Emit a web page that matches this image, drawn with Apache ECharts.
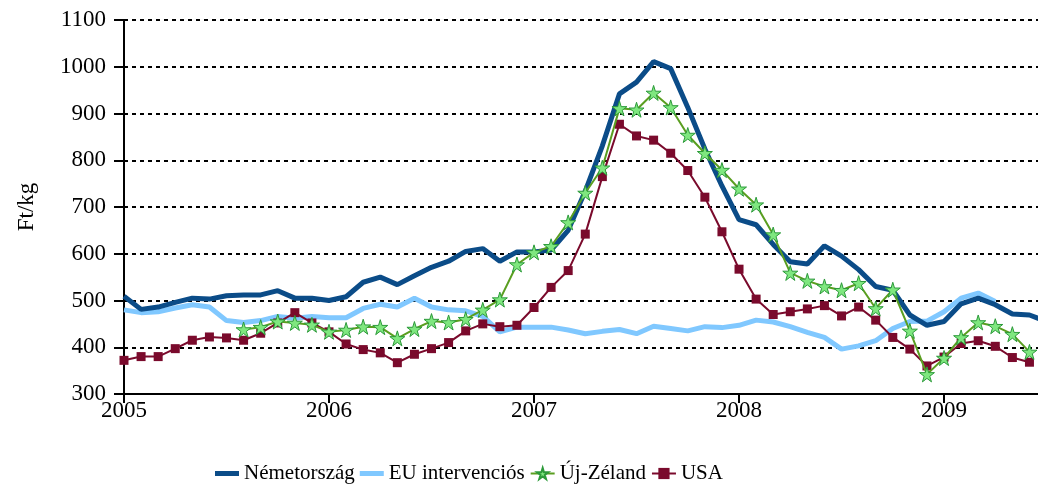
<!DOCTYPE html>
<html>
<head>
<meta charset="utf-8">
<script src="https://cdn.jsdelivr.net/npm/echarts@6/dist/echarts.min.js"></script>
<style>
  html, body { margin: 0; padding: 0; background: #fff; }
  #chart { width: 1038px; height: 488px; }
</style>
</head>
<body>
<div id="chart"></div>
<script>
// havi adatok, 2005 jan. = 0
var startYear = 2005;
var yearTicks = ['2005', '2006', '2007', '2008', '2009'];

var nemetorszag = [509, 481, 486, 496, 505, 503, 510, 512, 512, 521, 505, 505,
  500, 508, 539, 550, 534, 553, 571, 584, 605, 611, 584, 604,
  604, 608, 650, 734, 831, 942, 967, 1011, 996, 913, 824, 745,
  673, 662, 620, 583, 578, 617, 595, 566, 530, 522, 469, 447,
  455, 493, 505, 491, 471, 469, 455];

var euIntervencios = [480, 474, 476, 484, 491, 486, 457, 453, 457, 466, 462, 466,
  463, 463, 483, 492, 486, 505, 486, 480, 478, 466, 433, 443,
  443, 443, 437, 429, 434, 438, 429, 445, 440, 435, 444, 442,
  447, 458, 454, 444, 432, 421, 396, 403, 414, 440, 455, 456,
  476, 505, 516, 498, null, null];

var ujZeland = [null, null, null, null, null, null, null, 438, 443, 455, 452, 448,
  433, 437, 444, 443, 419, 439, 456, 453, 460, 480, 502, 577,
  603, 616, 667, 730, 784, 911, 908, 944, 913, 854, 815, 779,
  739, 705, 641, 559, 542, 530, 522, 537, 483, 523, 435, 342,
  377, 421, 453, 445, 428, 390];

var usa = [372, 380, 380, 397, 415, 422, 420, 415, 430, 452, 474, 452,
  433, 407, 395, 388, 367, 385, 397, 410, 435, 450, 444, 447,
  485, 528, 564, 642, 765, 877, 852, 843, 815, 778, 721, 647,
  567, 503, 470, 476, 482, 489, 467, 486, 458, 421, 396, 360,
  379, 408, 414, 402, 378, 368];

function pairs(arr) {
  return arr.map(function (v, i) { return [i, v]; });
}

var yearPos = yearTicks.map(function (y, i) { return i * 12; });
var starPath = 'path://M50,0 L61,35 L98,35 L68,57 L79,91 L50,70 L21,91 L32,57 L2,35 L39,35 Z';
var barIcon = 'path://M0,0 L24,0 L24,5 L0,5 Z';
var serif = '"Liberation Serif", "DejaVu Serif", serif';

var chart = echarts.init(document.getElementById('chart'));
chart.setOption({
  animation: false,
  backgroundColor: '#fff',
  textStyle: { fontFamily: serif, color: '#000' },
  grid: { left: 124, right: 0, top: 20, bottom: 94 },
  legend: {
    left: 210,
    top: 458,
    itemWidth: 24,
    itemHeight: 14,
    itemGap: 5,
    textStyle: { fontFamily: serif, fontSize: 21, color: '#000' },
    data: [
      { name: 'Németország', icon: barIcon, itemStyle: { color: '#0B4C88' } },
      { name: 'EU intervenciós', icon: barIcon, itemStyle: { color: '#80C8FF' } },
      'Új-Zéland',
      'USA'
    ]
  },
  xAxis: {
    type: 'value',
    min: 0,
    max: 53.5,
    interval: 12,
    axisLine: { lineStyle: { color: '#000', width: 2 } },
    axisTick: { inside: false, length: 9, customValues: yearPos, lineStyle: { color: '#000', width: 2 } },
    axisLabel: {
      fontFamily: serif, fontSize: 23, color: '#000', margin: 5,
      customValues: yearPos,
      formatter: function (v) {
        return yearTicks[Math.round(v / 12)] || String(startYear + v / 12);
      }
    },
    splitLine: { show: false }
  },
  yAxis: {
    type: 'value',
    min: 300,
    max: 1100,
    interval: 100,
    name: 'Ft/kg',
    nameLocation: 'middle',
    nameGap: 86,
    nameRotate: 90,
    nameTextStyle: { fontFamily: serif, fontSize: 23, color: '#000' },
    axisLine: { show: true, lineStyle: { color: '#000', width: 2 } },
    axisTick: { show: true, inside: false, length: 10, lineStyle: { color: '#000', width: 2 } },
    axisLabel: {
      fontFamily: serif, fontSize: 23, color: '#000', margin: 18,
      formatter: function (v) { return String(v); }
    },
    splitLine: { show: true, lineStyle: { color: '#000', width: 2, type: [4, 4] } }
  },
  series: [
    {
      name: 'EU intervenciós',
      type: 'line',
      data: pairs(euIntervencios),
      symbol: 'none',
      color: '#80C8FF',
      lineStyle: { color: '#80C8FF', width: 5 },
      z: 2
    },
    {
      name: 'Németország',
      type: 'line',
      data: pairs(nemetorszag),
      symbol: 'none',
      color: '#0B4C88',
      lineStyle: { color: '#0B4C88', width: 5 },
      z: 3
    },
    {
      name: 'USA',
      type: 'line',
      data: pairs(usa),
      symbol: 'rect',
      symbolSize: 9,
      color: '#7A0A2C',
      itemStyle: { color: '#7A0A2C' },
      lineStyle: { color: '#7A0A2C', width: 2 },
      z: 4
    },
    {
      name: 'Új-Zéland',
      type: 'line',
      data: pairs(ujZeland),
      symbol: starPath,
      symbolSize: 15,
      color: '#5A9E20',
      itemStyle: { color: '#7FE77F', borderColor: '#2C9A3A', borderWidth: 1 },
      lineStyle: { color: '#5A9E20', width: 2 },
      z: 5
    }
  ]
});
</script>
</body>
</html>
